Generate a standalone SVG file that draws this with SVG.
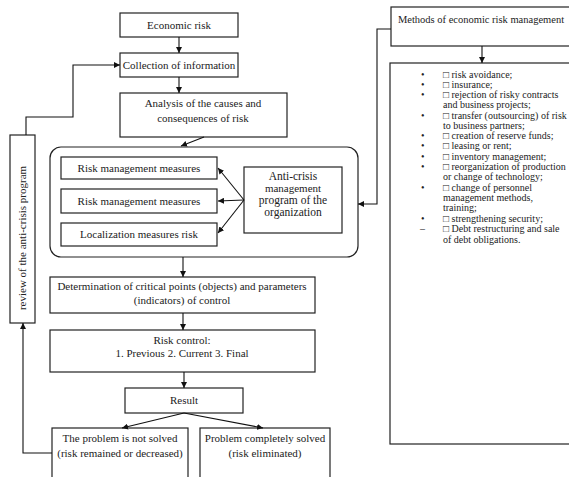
<svg xmlns="http://www.w3.org/2000/svg" width="569" height="477" viewBox="0 0 569 477" font-family="'Liberation Serif', 'Times New Roman', serif">
<defs>
<marker id="ah" viewBox="0 0 10 10" refX="10" refY="5" markerWidth="6" markerHeight="6" orient="auto-start-reverse" markerUnits="userSpaceOnUse">
<path d="M0,0 L10,5 L0,10 z" fill="#111"/>
</marker>
<style>
text{font-family:'Liberation Serif','Times New Roman',serif}
.b{fill:#fff;stroke:#222;stroke-width:1.2}
.t{font-size:11px;fill:#222;text-anchor:middle}
.l{font-size:10px;fill:#222}
.c{fill:none;stroke:#111;stroke-width:1.1;marker-end:url(#ah)}
</style>
</defs>
<rect width="569" height="477" fill="#fff"/>

<g id="container">
<rect class="b" x="50" y="147" width="308" height="110" rx="11" ry="11"/>
</g>

<g id="economic-risk">
<rect class="b" x="120" y="13" width="118" height="24"/>
<text class="t" x="179" y="29">Economic risk</text>
</g>
<g id="collection">
<rect class="b" x="120" y="53" width="118" height="24"/>
<text class="t" x="179" y="69">Collection of information</text>
</g>
<g id="analysis">
<rect class="b" x="120" y="93" width="167" height="44"/>
<text class="t" x="203" y="107">Analysis of the causes and</text>
<text class="t" x="203" y="122">consequences of risk</text>
</g>
<g id="measures1">
<rect class="b" x="61" y="157" width="156" height="22"/>
<text class="t" x="139" y="172">Risk management measures</text>
</g>
<g id="measures2">
<rect class="b" x="61" y="189" width="156" height="24"/>
<text class="t" x="139" y="205">Risk management measures</text>
</g>
<g id="localization">
<rect class="b" x="61" y="223" width="156" height="23"/>
<text class="t" x="139" y="238">Localization measures risk</text>
</g>
<g id="anti-crisis">
<rect class="b" x="244" y="167" width="98" height="66"/>
<text class="t" x="293" y="180" style="font-size:11.5px">Anti-crisis</text>
<text class="t" x="293" y="192">management</text>
<text class="t" x="293" y="204" style="font-size:11.5px">program of the</text>
<text class="t" x="293" y="216" style="font-size:11.5px">organization</text>
</g>
<g id="determination">
<rect class="b" x="50" y="277" width="265" height="36"/>
<text class="t" x="182" y="290">Determination of critical points (objects) and parameters</text>
<text class="t" x="182" y="304">(indicators) of control</text>
</g>
<g id="risk-control">
<rect class="b" x="50" y="330" width="265" height="42"/>
<text class="t" x="182" y="344">Risk control:</text>
<text class="t" x="182" y="357">1. Previous 2. Current 3. Final</text>
</g>
<g id="result">
<rect class="b" x="125" y="388" width="118" height="25"/>
<text class="t" x="184" y="404">Result</text>
</g>
<g id="not-solved">
<rect class="b" x="52" y="428" width="136" height="60"/>
<text class="t" x="120" y="442">The problem is not solved</text>
<text class="t" x="120" y="457">(risk remained or decreased)</text>
</g>
<g id="solved">
<rect class="b" x="200" y="428" width="130" height="60"/>
<text class="t" x="265" y="442">Problem completely solved</text>
<text class="t" x="265" y="457">(risk eliminated)</text>
</g>
<g id="review">
<rect class="b" x="10" y="135" width="25" height="188"/>
<text class="t" transform="translate(26,238) rotate(-90)" x="0" y="0">review of the anti-crisis program</text>
</g>
<g id="methods">
<rect class="b" x="391" y="7" width="185" height="39"/>
<text class="t" x="481" y="23" style="font-size:10.5px">Methods of economic risk management</text>
</g>
<g id="methods-list">
<rect class="b" x="390" y="63" width="186" height="381"/>
<g class="l">
<text x="421" y="78">•</text><text x="443" y="78">□ risk avoidance;</text>
<text x="421" y="88">•</text><text x="443" y="88">□ insurance;</text>
<text x="421" y="98">•</text><text x="443" y="98">□ rejection of risky contracts</text>
<text x="443" y="108">and business projects;</text>
<text x="421" y="119">•</text><text x="443" y="119">□ transfer (outsourcing) of risk</text>
<text x="443" y="129">to business partners;</text>
<text x="421" y="139">•</text><text x="443" y="139">□ creation of reserve funds;</text>
<text x="421" y="149">•</text><text x="443" y="149">□ leasing or rent;</text>
<text x="421" y="160">•</text><text x="443" y="160">□ inventory management;</text>
<text x="421" y="170">•</text><text x="443" y="170">□ reorganization of production</text>
<text x="443" y="180">or change of technology;</text>
<text x="421" y="191">•</text><text x="443" y="191">□ change of personnel</text>
<text x="443" y="201">management methods,</text>
<text x="443" y="211">training;</text>
<text x="421" y="222">•</text><text x="443" y="222">□ strengthening security;</text>
<text x="420" y="232">–</text><text x="443" y="232">□ Debt restructuring and sale</text>
<text x="443" y="243">of debt obligations.</text>
</g>
</g>

<g id="connectors">
<path class="c" d="M179,37 V53"/>
<path class="c" d="M179,77 V93"/>
<path class="c" d="M204,137 L181,146"/>
<path class="c" d="M244,200 L218,168"/>
<path class="c" d="M244,200 L218,201"/>
<path class="c" d="M244,200 L218,233"/>
<path class="c" d="M183,257 V277"/>
<path class="c" d="M183,313 V330"/>
<path class="c" d="M184,372 V388"/>
<path class="c" d="M184,413 L122,428"/>
<path class="c" d="M184,413 L263,428"/>
<path class="c" d="M52,453 H23 V323"/>
<path class="c" d="M26,135 V117 H73 V65 H120"/>
<path class="c" d="M391,29 H377 V204 H358"/>
<path class="c" d="M482,46 V63"/>
</g>
</svg>
